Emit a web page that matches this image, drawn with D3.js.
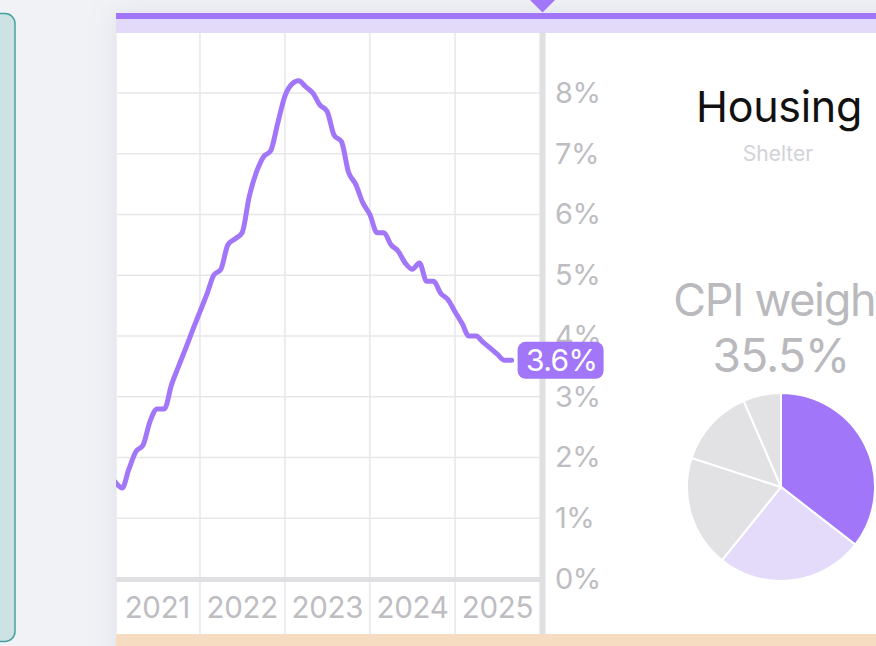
<!DOCTYPE html>
<html>
<head>
<meta charset="utf-8">
<script src="https://cdn.jsdelivr.net/npm/d3@7"></script>
<style>
  html, body { margin: 0; padding: 0; background: #f1f2f6; overflow: hidden; }
  svg { display: block; font-family: Inter, "Noto Sans", sans-serif; }
</style>
</head>
<body>
<script>
const width = 876;
const height = 646;

// shelter CPI, year over year %, Jan 2021 .. Sep 2025
const months = d3.timeMonths(new Date(2021, 0, 1), new Date(2025, 9, 1));
const shelterYoY = [
  1.6, 1.5, 1.8, 2.1, 2.2, 2.6, 2.8, 2.8, 3.2, 3.5, 3.8, 4.1,
  4.4, 4.7, 5.0, 5.1, 5.5, 5.6, 5.7, 6.3, 6.7, 6.95, 7.05, 7.5,
  7.95, 8.15, 8.2, 8.1, 8.0, 7.8, 7.7, 7.3, 7.2, 6.7, 6.5, 6.2,
  6.0, 5.7, 5.7, 5.5, 5.4, 5.2, 5.1, 5.2, 4.9, 4.9, 4.7, 4.6,
  4.4, 4.2, 4.0, 4.0, 3.9, 3.8, 3.7, 3.6, 3.6
];
const years = [2021, 2022, 2023, 2024, 2025];
const yTicks = [0, 1, 2, 3, 4, 5, 6, 7, 8];

const weightNames = ["Shelter", "Services ex-shelter", "Core goods", "Food", "Energy"];
const weightValues = [35.5, 25.3, 19.2, 13.5, 6.5];
const weightColors = ["#a276f8", "#e4dbfb", "#e2e2e4", "#e2e2e4", "#e2e2e4"];

const purple = "#a276f8";
const grid = "#e7e7ea";
const axisGray = "#e0e0e3";
const labelGray = "#bdbdc2";

const data = months.map(function(d, i) { return { date: d, value: shelterYoY[i] }; });

const xScale = d3.scaleTime()
                 .domain([new Date(2021, 0, 1), new Date(2026, 0, 1)])
                 .range([115, 540]);

const yScale = d3.scaleLinear()
                 .domain([0, 9])
                 .range([579, 32.25]);

const svg = d3.select("body")
  .append("svg")
    .attr("width", width)
    .attr("height", height);

const defs = svg.append("defs");
const shadow = defs.append("filter")
    .attr("id", "shadow")
    .attr("x", "-20%").attr("y", "-20%")
    .attr("width", "140%").attr("height", "140%");
shadow.append("feDropShadow")
    .attr("dx", 0).attr("dy", 0)
    .attr("stdDeviation", 14)
    .attr("flood-color", "#8a8fa8")
    .attr("flood-opacity", 0.18);

defs.append("clipPath").attr("id", "plotClip")
  .append("rect")
    .attr("x", 116).attr("y", 33)
    .attr("width", 424).attr("height", 547);

// left neighbour card
svg.append("rect")
    .attr("x", -30).attr("y", 13.5)
    .attr("width", 45).attr("height", 628)
    .attr("rx", 10)
    .attr("fill", "#cce2e3")
    .attr("stroke", "#47a19f")
    .attr("stroke-width", 1.5);

// main card
svg.append("rect")
    .attr("x", 116).attr("y", 13)
    .attr("width", 800).attr("height", 660)
    .attr("fill", "#ffffff")
    .attr("filter", "url(#shadow)");

svg.append("rect")
    .attr("x", 116).attr("y", 19)
    .attr("width", 800).attr("height", 14)
    .attr("fill", "#e3d9f8");

svg.append("rect")
    .attr("x", 116).attr("y", 13)
    .attr("width", 800).attr("height", 6)
    .attr("fill", purple);

svg.append("rect")
    .attr("x", 116).attr("y", 634)
    .attr("width", 800).attr("height", 20)
    .attr("fill", "#f6dcc1");

// marker on top
svg.append("path")
    .attr("d", "M528,-2 L557,-2 L542.5,12.5 Z")
    .attr("fill", purple);

// gridlines
svg.append("g")
  .selectAll("line")
  .data(yTicks.filter(function(d) { return d > 0; }))
  .enter()
  .append("line")
    .attr("x1", 116)
    .attr("x2", 540)
    .attr("y1", function(d) { return yScale(d); })
    .attr("y2", function(d) { return yScale(d); })
    .attr("stroke", grid)
    .attr("stroke-width", 1.5);

svg.append("g")
  .selectAll("line")
  .data(years.slice(1))
  .enter()
  .append("line")
    .attr("x1", function(d) { return xScale(new Date(d, 0, 1)); })
    .attr("x2", function(d) { return xScale(new Date(d, 0, 1)); })
    .attr("y1", 33)
    .attr("y2", 634)
    .attr("stroke", grid)
    .attr("stroke-width", 1.5);

svg.append("line")
    .attr("x1", 116.5).attr("x2", 116.5)
    .attr("y1", 33).attr("y2", 634)
    .attr("stroke", "#eeeef1")
    .attr("stroke-width", 1);

// bottom axis band and vertical divider
svg.append("rect")
    .attr("x", 116).attr("y", 577)
    .attr("width", 424).attr("height", 5)
    .attr("fill", axisGray);

svg.append("rect")
    .attr("x", 539.5).attr("y", 33)
    .attr("width", 6).attr("height", 601)
    .attr("fill", axisGray);

// year labels centred in each year
svg.append("g")
  .selectAll("text")
  .data(years)
  .enter()
  .append("text")
    .attr("x", function(d) { return xScale(new Date(d, 6, 2)); })
    .attr("y", 618)
    .attr("text-anchor", "middle")
    .attr("font-size", 29.5)
    .attr("letter-spacing", -0.3)
    .attr("fill", labelGray)
    .text(function(d) { return d; });

// y axis on the right
const yAxis = d3.axisRight(yScale)
    .tickValues(yTicks)
    .tickSize(0)
    .tickPadding(10)
    .tickFormat(function(d) { return d + "%"; });

const yAxisG = svg.append("g")
    .attr("transform", "translate(545,0)")
    .call(yAxis);
yAxisG.select(".domain").remove();
yAxisG.selectAll("text")
    .attr("font-family", "Inter, sans-serif")
    .attr("font-size", 29)
    .attr("letter-spacing", -0.5)
    .attr("fill", labelGray);

// the line
const line = d3.line()
    .x(function(d) { return xScale(d.date); })
    .y(function(d) { return yScale(d.value); })
    .curve(d3.curveMonotoneX);

svg.append("path")
    .datum(data)
    .attr("clip-path", "url(#plotClip)")
    .attr("d", line)
    .attr("fill", "none")
    .attr("stroke", purple)
    .attr("stroke-width", 5)
    .attr("stroke-linejoin", "round")
    .attr("stroke-linecap", "round");

// last value badge
const last = data[data.length - 1];
const badge = svg.append("g")
    .attr("transform", "translate(" + (xScale(last.date) + 6) + "," + yScale(last.value) + ")");
badge.append("rect")
    .attr("x", 0).attr("y", -18.5)
    .attr("width", 86).attr("height", 37)
    .attr("rx", 8)
    .attr("fill", purple);
badge.append("text")
    .attr("x", 44).attr("y", 11)
    .attr("text-anchor", "middle")
    .attr("font-size", 30)
    .attr("letter-spacing", -0.6)
    .attr("fill", "#ffffff")
    .text(last.value.toFixed(1) + "%");

// right panel
const cx = 781;
svg.append("text")
    .attr("x", cx - 2).attr("y", 122)
    .attr("text-anchor", "middle")
    .attr("font-size", 43)
    .attr("letter-spacing", -0.3)
    .attr("fill", "#111111")
    .text("Housing");

svg.append("text")
    .attr("x", cx - 3).attr("y", 161)
    .attr("text-anchor", "middle")
    .attr("font-size", 21)
    .attr("fill", "#d2d2d8")
    .text("Shelter");

svg.append("text")
    .attr("x", cx).attr("y", 316)
    .attr("text-anchor", "middle")
    .attr("font-size", 45)
    .attr("letter-spacing", -1.3)
    .attr("fill", "#b9b9be")
    .text("CPI weight");

svg.append("text")
    .attr("x", cx).attr("y", 372)
    .attr("text-anchor", "middle")
    .attr("font-size", 46)
    .attr("letter-spacing", -0.8)
    .attr("fill", "#b9b9be")
    .text(weightValues[0].toFixed(1) + "%");

const pie = d3.pie().sort(null).value(function(d) { return d; });
const arc = d3.arc().innerRadius(0).outerRadius(94);

svg.append("g")
    .attr("transform", "translate(" + cx + ",487)")
  .selectAll("path")
  .data(pie(weightValues))
  .enter()
  .append("path")
    .attr("d", arc)
    .attr("fill", function(d, i) { return weightColors[i]; })
    .attr("stroke", "#ffffff")
    .attr("stroke-width", 2)
  .append("title")
    .text(function(d, i) { return weightNames[i] + " " + d.data + "%"; });
</script>
</body>
</html>
